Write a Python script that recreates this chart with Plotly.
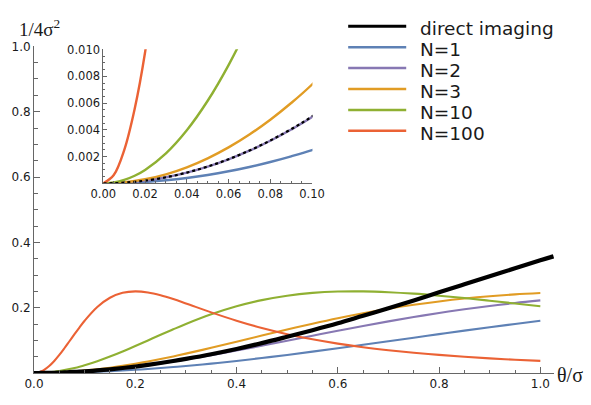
import plotly.graph_objects as go

# ---------------- data ----------------
theta = [0, 0.005, 0.01, 0.015, 0.02, 0.03, 0.04, 0.05, 0.06, 0.07, 0.08, 0.09, 0.10,
         0.125, 0.15, 0.175, 0.20, 0.225, 0.25, 0.275, 0.30,
         0.35, 0.40, 0.45, 0.50, 0.55, 0.60, 0.65, 0.70, 0.75, 0.80, 0.85, 0.90, 0.95, 1.00]
theta_direct = theta + [1.026]

direct_imaging = [0, 0.0000125, 0.00005, 0.000112, 0.0002, 0.00045, 0.0008, 0.00125, 0.0018, 0.00245,
                  0.0032, 0.00405, 0.005, 0.0078, 0.0112, 0.0152, 0.0197, 0.0248, 0.0305, 0.0366, 0.0432,
                  0.0575, 0.0735, 0.0915, 0.111, 0.131, 0.152, 0.175, 0.198, 0.222, 0.247, 0.2715, 0.296,
                  0.3205, 0.345, 0.357]
n1 = [0, 0.0000062, 0.000025, 0.0000562, 0.0001, 0.000225, 0.0004, 0.000624, 0.000898, 0.001222,
      0.001595, 0.002017, 0.002488, 0.003876, 0.005562, 0.00754, 0.0098, 0.01234, 0.01515, 0.01821,
      0.02152, 0.02883, 0.03698, 0.04586, 0.05536, 0.06537, 0.07575, 0.08641, 0.09722, 0.1081,
      0.1189, 0.1296, 0.1400, 0.1502, 0.1600]
n2 = [0, 0.0000125, 0.00005, 0.0001125, 0.0002, 0.00045, 0.000799, 0.001247, 0.001794, 0.002438,
      0.00318, 0.004017, 0.00495, 0.007692, 0.0110, 0.01485, 0.01922, 0.02408, 0.02938, 0.03511,
      0.04121, 0.05439, 0.06859, 0.08349, 0.09877, 0.1141, 0.1293, 0.1440, 0.1581, 0.1713,
      0.1837, 0.1950, 0.2052, 0.2143, 0.2222]
n3 = [0, 0.0000188, 0.000075, 0.000169, 0.0003, 0.000674, 0.001197, 0.001868, 0.002685, 0.003648,
      0.004754, 0.006002, 0.007389, 0.01145, 0.01632, 0.02195, 0.02828, 0.03524, 0.04277, 0.05079,
      0.05923, 0.07706, 0.09566, 0.1145, 0.1330, 0.1507, 0.1674, 0.1827, 0.1965, 0.2087,
      0.2191, 0.2279, 0.2351, 0.2407, 0.2449]
n10 = [0, 0.0000625, 0.00025, 0.000562, 0.000998, 0.00224, 0.003968, 0.006173, 0.00884, 0.01196,
       0.0155, 0.01945, 0.0238, 0.03618, 0.05042, 0.06606, 0.08264, 0.09972, 0.1169, 0.1337,
       0.1499, 0.1795, 0.2041, 0.2231, 0.2367, 0.2452, 0.2493, 0.2498, 0.2474, 0.2429,
       0.2367, 0.2294, 0.2213, 0.2128, 0.2041]
n100 = [0, 0.000624, 0.002488, 0.005562, 0.0098, 0.02152, 0.03698, 0.05536, 0.07575, 0.09722,
        0.1189, 0.1400, 0.1600, 0.2020, 0.2304, 0.2456, 0.2500, 0.2466, 0.2380, 0.2263,
        0.2130, 0.1856, 0.1600, 0.1377, 0.1189, 0.1031, 0.0900, 0.0790, 0.0698, 0.0620,
        0.0554, 0.0497, 0.0448, 0.0406, 0.0370]

series_names = ["direct imaging", "N=1", "N=2", "N=3", "N=10", "N=100"]
series_values = [direct_imaging, n1, n2, n3, n10, n100]
series_colors = ["#000000", "#5E81B5", "#8778B3", "#E19C24", "#8FB032", "#EB6235"]

main_xticks = [0.0, 0.2, 0.4, 0.6, 0.8, 1.0]
main_yticks = [0.2, 0.4, 0.6, 0.8, 1.0]
inset_xticks = [0.0, 0.02, 0.04, 0.06, 0.08, 0.10]
inset_yticks = [0.002, 0.004, 0.006, 0.008, 0.010]

# ---------------- layout geometry (pixels) ----------------
W, H = 591, 405
L, T = 34, 45.7
PW, PH = 519.7, 327.0
R = W - L - PW
B = H - T - PH


def px_x(px):
    return (px - L) / PW


def px_y(py):
    return (T + PH - py) / PH


AX = "#666666"
TXT = "#1a1a1a"
SANS = "DejaVu Sans"
SERIF = "Liberation Serif"

fig = go.Figure()

# main plot: coloured series first, black on top
order = [1, 2, 3, 4, 5, 0]
for i in order:
    xs = theta_direct if i == 0 else theta
    fig.add_trace(go.Scatter(
        x=xs, y=series_values[i], mode="lines", name=series_names[i],
        line=dict(color=series_colors[i], width=4.2 if i == 0 else 2.1, shape="spline"),
        showlegend=False, xaxis="x", yaxis="y", hoverinfo="skip"))

# inset
for i in order:
    xs = theta_direct if i == 0 else theta
    if i == 0:
        ln = dict(color="#000000", width=2.2, dash="dot", shape="spline")
    else:
        ln = dict(color=series_colors[i], width=2.4, shape="spline")
    fig.add_trace(go.Scatter(
        x=xs, y=series_values[i], mode="lines", name=series_names[i],
        line=ln, showlegend=False, xaxis="x2", yaxis="y2", hoverinfo="skip"))

tickfont_main = dict(family=SANS, size=12, color=TXT)
tickfont_inset = dict(family=SANS, size=11.5, color=TXT)

fig.update_layout(
    width=W, height=H,
    margin=dict(l=L, r=R, t=T, b=B, pad=0, autoexpand=False),
    paper_bgcolor="white", plot_bgcolor="rgba(0,0,0,0)",
    showlegend=False,
    xaxis=dict(domain=[0, 1], range=[0, 1.027], tickmode="array", tickvals=main_xticks,
               ticktext=["%.1f" % v for v in main_xticks], ticks="inside", ticklen=6,
               tickwidth=1, tickcolor=AX, showline=True, linecolor=AX, linewidth=1,
               showgrid=False, zeroline=False, tickfont=tickfont_main,
               minor=dict(tickmode="linear", tick0=0, dtick=0.05, ticks="inside", ticklen=3.5,
                          tickcolor=AX, tickwidth=1, showgrid=False),
               anchor="y"),
    yaxis=dict(domain=[0, 1], range=[0, 1.001], tickmode="array", tickvals=main_yticks,
               ticktext=["%.1f" % v for v in main_yticks], ticks="inside", ticklen=6,
               tickwidth=1, tickcolor=AX, showline=True, linecolor=AX, linewidth=1,
               showgrid=False, zeroline=False, tickfont=tickfont_main,
               minor=dict(tickmode="linear", tick0=0, dtick=0.05, ticks="inside", ticklen=3.5,
                          tickcolor=AX, tickwidth=1, showgrid=False),
               anchor="x"),
    xaxis2=dict(domain=[px_x(103.3), px_x(312.3)], range=[0, 0.1002], tickmode="array",
                tickvals=inset_xticks, ticktext=["%.2f" % v for v in inset_xticks],
                ticks="inside", ticklen=4, tickwidth=1, tickcolor=AX, showline=True,
                linecolor=AX, linewidth=1, showgrid=False, zeroline=False,
                tickfont=tickfont_inset,
                minor=dict(tickmode="linear", tick0=0, dtick=0.005, ticks="inside", ticklen=2,
                           tickcolor=AX, tickwidth=1, showgrid=False),
                anchor="y2"),
    yaxis2=dict(domain=[px_y(183), px_y(49)], range=[0, 0.01002], tickmode="array",
                tickvals=inset_yticks, ticktext=["%.3f" % v for v in inset_yticks],
                ticks="inside", ticklen=4, tickwidth=1, tickcolor=AX, showline=True,
                linecolor=AX, linewidth=1, showgrid=False, zeroline=False,
                tickfont=tickfont_inset,
                minor=dict(tickmode="linear", tick0=0, dtick=0.0005, ticks="inside", ticklen=2,
                           tickcolor=AX, tickwidth=1, showgrid=False),
                anchor="x2"),
)

# axis titles
fig.add_annotation(text="1/4σ<sup>2</sup>", xref="paper", yref="paper",
                   x=px_x(17), y=px_y(28), xanchor="left", yanchor="middle",
                   showarrow=False, font=dict(family=SERIF, size=19, color=TXT))
fig.add_annotation(text="θ/σ", xref="paper", yref="paper",
                   x=px_x(555), y=px_y(375), xanchor="left", yanchor="middle",
                   showarrow=False, font=dict(family=SERIF, size=20, color=TXT))

# legend (drawn manually to match long line samples)
leg_x0, leg_x1, leg_tx = 348, 406, 418
leg_y0, leg_dy = 26, 20.9
for k, name in enumerate(series_names):
    yy = leg_y0 + k * leg_dy
    fig.add_shape(type="line", xref="paper", yref="paper",
                  x0=px_x(leg_x0), x1=px_x(leg_x1), y0=px_y(yy), y1=px_y(yy),
                  line=dict(color=series_colors[k], width=3 if k == 0 else 2.5))
    fig.add_annotation(text=name, xref="paper", yref="paper",
                       x=px_x(leg_tx), y=px_y(yy + 2.5), xanchor="left", yanchor="middle",
                       showarrow=False, font=dict(family=SANS, size=18.5, color=TXT))

fig.write_html("out.html")
